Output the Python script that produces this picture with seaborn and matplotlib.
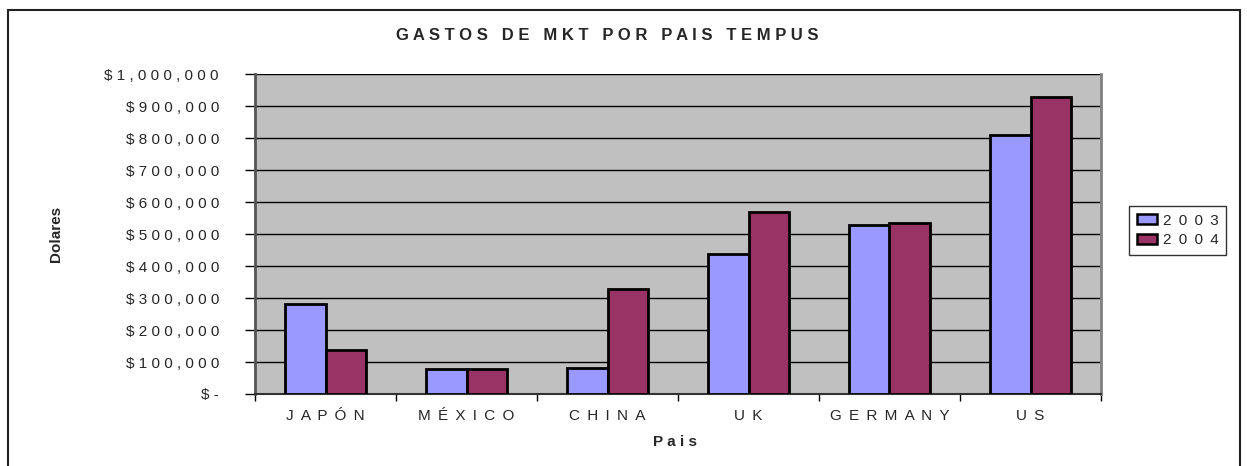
import matplotlib
matplotlib.use("Agg")
import matplotlib.pyplot as plt
from matplotlib.patches import Rectangle, Patch
from matplotlib.ticker import FixedLocator
import numpy as np
import pandas as pd
import seaborn as sns

# Marketing spend per country and year
paises = ["JAPÓN", "MÉXICO", "CHINA", "UK", "GERMANY", "US"]
gasto_2003 = [282000, 78000, 82000, 436000, 527000, 808000]
gasto_2004 = [139000, 78000, 328000, 568000, 533000, 928000]
anios = ["2003", "2004"]
y_ticks = [0, 100000, 200000, 300000, 400000, 500000, 600000, 700000, 800000, 900000, 1000000]

colores = {"2003": "#9999FF", "2004": "#993366"}


def espaciar(texto, sep=" "):
    return sep.join(texto)


def etiqueta_dolar(v):
    if v == 0:
        return "$ -"
    return espaciar(f"${v:,.0f}")


df = pd.DataFrame({
    "Pais": paises * 2,
    "Anio": [anios[0]] * len(paises) + [anios[1]] * len(paises),
    "Gasto": gasto_2003 + gasto_2004,
})

sns.set_theme(style="white")
plt.rcParams["font.family"] = ["Liberation Sans", "DejaVu Sans"]

W, H = 1247, 466
fig = plt.figure(figsize=(W / 100, H / 100), dpi=100)
fig.patch.set_facecolor("white")

ax = fig.add_axes([255 / W, 1 - 394 / H, (1101 - 255) / W, (394 - 74) / H])
ax.set_facecolor("#C0C0C0")

sns.barplot(data=df, x="Pais", y="Gasto", hue="Anio", palette=colores,
            order=paises, hue_order=anios, width=0.58, gap=0,
            edgecolor="black", linewidth=2.0, saturation=1, errorbar=None,
            legend=False, ax=ax, zorder=3)

ax.set_ylim(0, 1000000)
ax.set_xlim(-0.5, len(paises) - 0.5)
ax.set_yticks(y_ticks)
ax.set_yticklabels([etiqueta_dolar(v) for v in y_ticks])
ax.yaxis.grid(True, color="black", linewidth=1.0, zorder=0)
ax.set_axisbelow(True)

ax.set_xticks(range(len(paises)))
ax.set_xticklabels([espaciar(p, " \u2009") for p in paises])
ax.tick_params(axis="x", which="major", length=0, pad=11, labelsize=11)
ax.xaxis.set_minor_locator(FixedLocator(np.arange(-0.5, len(paises), 1.0)))
ax.tick_params(axis="x", which="minor", direction="out", length=5, width=1, color="black", bottom=True)
ax.tick_params(axis="y", which="major", direction="out", length=7, width=1, color="black",
               left=True, pad=19, labelsize=11)

ax.spines["right"].set_color("#808080")
ax.spines["right"].set_linewidth(2)
ax.spines["left"].set_color("#555555")
ax.spines["left"].set_linewidth(2)
ax.spines["bottom"].set_color("#333333")
ax.spines["bottom"].set_linewidth(1.5)
ax.spines["top"].set_visible(False)

ax.set_xlabel("")
ax.set_ylabel("")
fig.text(675 / W, 1 - 442 / H, espaciar("Pais"), ha="center", va="center",
         fontsize=11, fontweight="bold")
fig.text(56 / W, 1 - 234 / H, "Dolares", ha="center", va="center", rotation=90,
         fontsize=11, fontweight="bold")

fig.text(607 / W, 1 - 36 / H, espaciar("GASTOS DE MKT POR PAIS TEMPUS"),
         ha="center", va="center", fontsize=12, fontweight="bold")

manejadores = [Patch(facecolor=colores[a], edgecolor="black", linewidth=1.8,
                     label=espaciar(a, " \u2009")) for a in anios]
leg = fig.legend(handles=manejadores, loc="upper left",
                 bbox_to_anchor=(1129 / W, 1 - 206 / H), frameon=True, fancybox=False,
                 fontsize=11, handlelength=1.3, handleheight=0.65, handletextpad=0.4,
                 borderpad=0.5, labelspacing=0.35, borderaxespad=0)
leg.get_frame().set_edgecolor("black")
leg.get_frame().set_linewidth(1.0)

fig.patches.append(Rectangle((8 / W, -0.05), (1240 - 8) / W, 1.05 - 10 / H,
                             transform=fig.transFigure, fill=False,
                             edgecolor="#222222", linewidth=1.5))

fig.savefig("out.png", dpi=100)
